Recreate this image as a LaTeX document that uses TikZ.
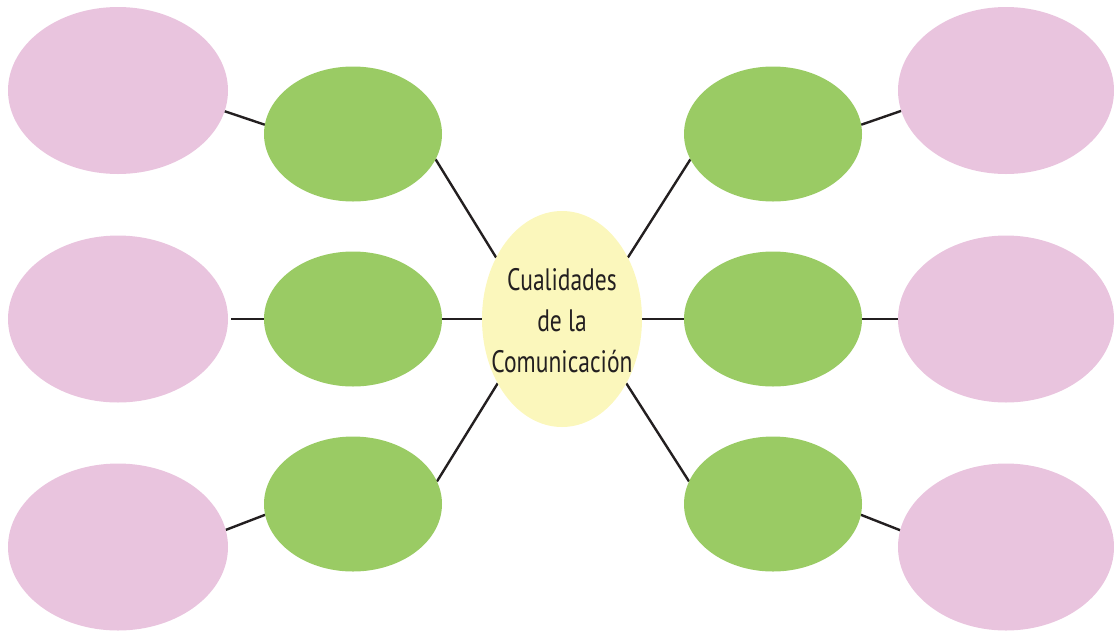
\documentclass[tikz,border=0pt]{standalone}
\usepackage{fontspec}
\newfontfamily\cualfont[FakeStretch=0.76]{PT Sans}
\usetikzlibrary{shapes.geometric,backgrounds}
\definecolor{pinkfill}{HTML}{E9C4DE}
\definecolor{greenfill}{HTML}{9ACB64}
\definecolor{yellowfill}{HTML}{FBF7BC}
\definecolor{linecol}{HTML}{231F20}
\begin{document}
\begin{tikzpicture}[x=1pt,y=-1pt,
  bubble/.style={ellipse,draw=none,inner sep=0pt,outer sep=0pt},
  pinkbub/.style={bubble,fill=pinkfill,minimum width=220pt,minimum height=167pt},
  pinkbubr/.style={bubble,fill=pinkfill,minimum width=216pt,minimum height=167pt},
  greenbub/.style={bubble,fill=greenfill,minimum width=178pt,minimum height=135pt},
  centerbub/.style={bubble,fill=yellowfill,minimum width=160pt,minimum height=216pt},
  conn/.style={draw=linecol,line width=2.4pt},
  ctext/.style={align=center,inner sep=0pt,text=linecol,font=\cualfont\fontsize{31}{41}\selectfont}]
\useasboundingbox (0,0) rectangle (1114,630);
% center
\node[centerbub] (c) at (562,319) {};
\node[ctext] (ct) at (562,320.5) {Cualidades\\de la\\Comunicación};
% green
\node[greenbub] (g1) at (353,134) {};
\node[greenbub] (g2) at (353,319) {};
\node[greenbub] (g3) at (353,504) {};
\node[greenbub] (g4) at (773,134) {};
\node[greenbub] (g5) at (773,319) {};
\node[greenbub] (g6) at (773,504) {};
% pink
\node[pinkbub] (p1) at (118,90.5) {};
\node[pinkbub] (p2) at (118,319) {};
\node[pinkbub] (p3) at (118,547) {};
\node[pinkbubr] (p4) at (1006,90.5) {};
\node[pinkbubr] (p5) at (1006,319) {};
\node[pinkbubr] (p6) at (1006,547) {};
\begin{scope}[on background layer]
\draw[conn] (g1.-17) -- (c.137);
\draw[conn] (g2.east) -- (c.west);
\draw[conn] (g3.15) -- (c.-135);
\draw[conn] (g4.-163) -- (c.43);
\draw[conn] (g5.west) -- (c.east);
\draw[conn] (g6.165) -- (c.-45);
\draw[conn] (p1.-11) -- (g1.174);
\draw[conn,shorten <=3pt] (p2.east) -- (g2.west);
\draw[conn] (p3.9) -- (g3.-173);
\draw[conn] (p4.-169.5) -- (g4.6);
\draw[conn] (p5.west) -- (g5.east);
\draw[conn] (p6.171) -- (g6.-7);
\end{scope}
\end{tikzpicture}
\end{document}
